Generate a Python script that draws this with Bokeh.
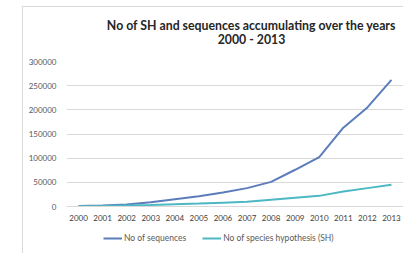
from bokeh.plotting import figure
from bokeh.layouts import column
from bokeh.models import (Legend, LegendItem, FixedTicker, Label, InlineStyleSheet,
                          NumeralTickFormatter, FactorRange, Range1d)
from bokeh.embed import file_html
from bokeh.resources import INLINE

years = [str(y) for y in range(2000, 2014)]
sequences = [1000, 2000, 4000, 9000, 15000, 21000, 29000, 38000, 51000, 76000,
             102000, 163000, 205000, 262000]
sh = [500, 1000, 2000, 3000, 4500, 6000, 8000, 10000, 14000, 18000, 22000,
      31000, 38000, 45000]
y_ticks = [0, 50000, 100000, 150000, 200000, 250000, 300000]
title_line1 = "No of SH and sequences accumulating over the years"
title_line2 = "2000 - 2013"
legend_labels = ["No of sequences", "No of species hypothesis (SH)"]

SEQ_COLOR = "#5b7dbb"
SH_COLOR = "#4db8c3"
BORDER = "#d9d9d9"
W = 403


def blank_fig(h):
    f = figure(width=W, height=h, x_range=Range1d(0, 1), y_range=Range1d(0, 1),
               x_axis_location=None, y_axis_location=None,
               output_backend="svg", toolbar_location=None,
               min_border=0, min_border_left=0, min_border_right=0,
               min_border_top=0, min_border_bottom=0)
    f.grid.visible = False
    f.outline_line_color = None
    f.border_fill_color = None
    f.background_fill_color = None
    return f


# ---- header with the two-line title (frame aligned with the chart's frame) ----
head = blank_fig(53)
for txt, yy in ((title_line1, 28), (title_line2, 14)):
    head.add_layout(Label(x=185, y=yy, x_units="screen", y_units="screen",
                          text=txt, text_align="center", text_baseline="middle",
                          text_font="Lato", text_font_style="bold",
                          text_font_size="12.3px", text_color="#262626"))

# ---- main chart ----
p = figure(width=W, height=175,
           x_range=FactorRange(*years, range_padding=0),
           y_range=Range1d(0, 300000),
           output_backend="svg", toolbar_location=None,
           min_border_left=66, min_border_top=8, min_border_right=0,
           min_border_bottom=22)
p.border_fill_color = None
p.background_fill_color = None
p.outline_line_color = None
p.xgrid.grid_line_color = None
p.ygrid.grid_line_color = BORDER
p.ygrid.grid_line_width = 1

p.yaxis.ticker = FixedTicker(ticks=y_ticks)
p.yaxis.formatter = NumeralTickFormatter(format="0")
p.yaxis.axis_line_color = None
p.yaxis.major_tick_line_color = None
p.yaxis.minor_tick_line_color = None
p.yaxis.major_tick_out = 0
p.yaxis.major_tick_in = 0
p.yaxis.minor_tick_out = 0
p.yaxis.major_label_standoff = 10
p.yaxis.major_label_text_font = "Lato"
p.yaxis.major_label_text_font_size = "8px"
p.yaxis.major_label_text_color = "#595959"

p.xaxis.axis_line_color = BORDER
p.xaxis.major_tick_line_color = None
p.xaxis.minor_tick_line_color = None
p.xaxis.major_tick_out = 0
p.xaxis.major_tick_in = 0
p.xaxis.minor_tick_out = 0
p.xaxis.major_label_standoff = 8
p.xaxis.major_label_text_font = "Lato"
p.xaxis.major_label_text_font_size = "8px"
p.xaxis.major_label_text_color = "#404040"

p.line(x=years, y=sequences, line_color=SEQ_COLOR, line_width=2)
p.line(x=years, y=sh, line_color=SH_COLOR, line_width=2)

# ---- legend strip (its renderers lie outside its visible range) ----
lf = blank_fig(25)
idx = list(range(len(years)))
k1 = lf.line(x=idx, y=sequences, line_color=SEQ_COLOR, line_width=2)
k2 = lf.line(x=idx, y=sh, line_color=SH_COLOR, line_width=2)
legend = Legend(items=[LegendItem(label=legend_labels[0], renderers=[k1]),
                       LegendItem(label=legend_labels[1], renderers=[k2])],
                orientation="horizontal", location=(37, 10),
                glyph_width=19, glyph_height=10, label_height=10,
                label_standoff=2, spacing=16, padding=0, margin=0,
                border_line_color=None, background_fill_alpha=0,
                label_text_font="Lato", label_text_font_size="8.5px",
                label_text_color="#595959")
lf.add_layout(legend)

layout = column(head, p, lf, spacing=0)
layout.stylesheets = [InlineStyleSheet(css=(
    ":host { background-color: white;"
    f" background-image: linear-gradient({BORDER}, {BORDER}), linear-gradient({BORDER}, {BORDER});"
    " background-size: 1px 100%, 100% 1px;"
    " background-position: 22px 6px, 22px 6px;"
    " background-repeat: no-repeat; }"
))]

open("out.html", "w").write(file_html(layout, INLINE))
